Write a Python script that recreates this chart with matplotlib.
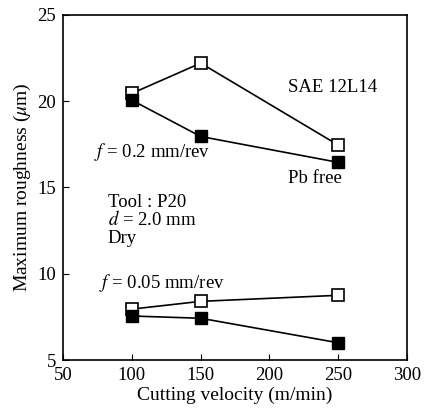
import matplotlib
matplotlib.use("Agg")
import matplotlib.pyplot as plt

velocity = [100, 150, 250]
sae_f02 = [20.45, 22.2, 17.45]
pbfree_f02 = [20.05, 17.95, 16.45]
sae_f005 = [7.95, 8.4, 8.75]
pbfree_f005 = [7.55, 7.42, 6.0]

xticks = [50, 100, 150, 200, 250, 300]
yticks = [5, 10, 15, 20, 25]

plt.rcParams['font.family'] = ['Liberation Serif', 'DejaVu Serif']
plt.rcParams['mathtext.fontset'] = 'stix'

fig = plt.figure(figsize=(4.24, 4.11), dpi=100)
ax = fig.add_axes([0.149, 0.124, 0.811, 0.840])

ms = 8.5
for vals in (pbfree_f02, pbfree_f005):
    ax.plot(velocity, vals, color='black', lw=1.2, marker='s', ms=ms,
            mfc='black', mec='black', zorder=3)
for vals in (sae_f02, sae_f005):
    ax.plot(velocity, vals, color='black', lw=1.2, marker='s', ms=ms,
            mfc='white', mec='black', mew=1.2, zorder=2)

ax.set_xlim(50, 300)
ax.set_ylim(5, 25)
ax.set_xticks(xticks)
ax.set_yticks(yticks)
ax.tick_params(direction='in', length=4, width=0.8, labelsize=13.5, pad=5)
for s in ax.spines.values():
    s.set_linewidth(1.2)

ax.set_xlabel('Cutting velocity (m/min)', fontsize=14, labelpad=2)
ax.set_ylabel(r'Maximum roughness ($\mu$m)', fontsize=14, labelpad=3)

fs = 13.5
ax.text(0.655, 0.777, 'SAE 12L14', transform=ax.transAxes, fontsize=fs)
ax.text(0.655, 0.513, 'Pb free', transform=ax.transAxes, fontsize=fs)
ax.text(0.09, 0.588, r'$f$ = 0.2 mm/rev', transform=ax.transAxes, fontsize=fs)
ax.text(0.13, 0.443, 'Tool : P20', transform=ax.transAxes, fontsize=fs)
ax.text(0.13, 0.391, r'$d$ = 2.0 mm', transform=ax.transAxes, fontsize=fs)
ax.text(0.13, 0.340, 'Dry', transform=ax.transAxes, fontsize=fs)
ax.text(0.105, 0.209, r'$f$ = 0.05 mm/rev', transform=ax.transAxes, fontsize=fs)

fig.savefig('out.png', dpi=100)
